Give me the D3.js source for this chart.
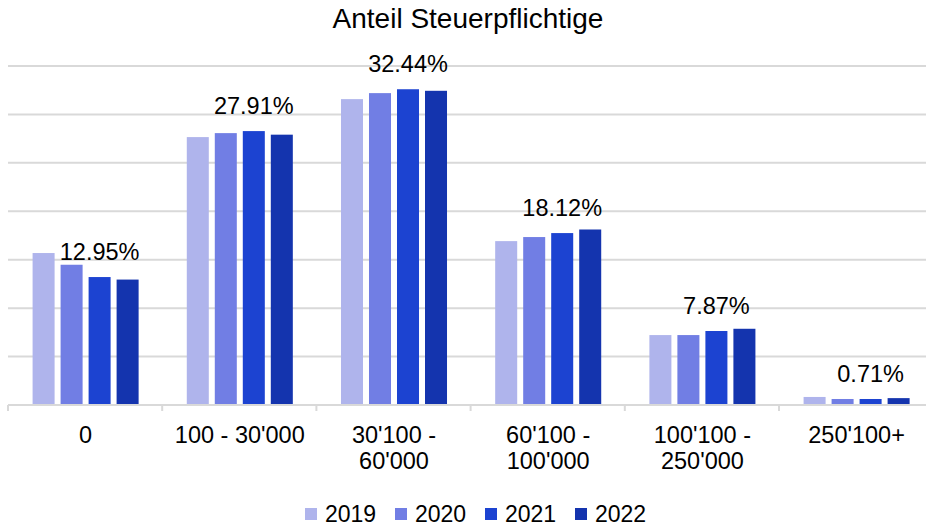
<!DOCTYPE html>
<html>
<head>
<meta charset="utf-8">
<title>Anteil Steuerpflichtige</title>
<script src="https://d3js.org/d3.v7.min.js"></script>
<style>
  body { margin: 0; background: #fff; }
  text { font-family: "Liberation Sans", Arial, sans-serif; fill: #000; }
</style>
</head>
<body>
<div id="chart"></div>
<script>

// data
var categories = ["0", "100 - 30'000", "30'100 - 60'000", "60'100 - 100'000", "100'100 - 250'000", "250'100+"]
var categoryLines = [["0"], ["100 - 30'000"], ["30'100 -", "60'000"], ["60'100 -", "100'000"], ["100'100 -", "250'000"], ["250'100+"]]
var years = ["2019", "2020", "2021", "2022"]
var values2019 = [15.69, 27.66, 31.58, 16.92, 7.22, 0.83]
var values2020 = [14.48, 28.07, 32.20, 17.34, 7.22, 0.62]
var values2021 = [13.21, 28.28, 32.60, 17.75, 7.64, 0.62]
var values2022 = [12.95, 27.91, 32.44, 18.12, 7.87, 0.71]
var yTicks = [5, 10, 15, 20, 25, 30, 35]

var series = [values2019, values2020, values2021, values2022]
var colors = ["#afb4ec", "#717ee4", "#1c43d1", "#1434ae"]

var width = 926
var height = 526

var svg = d3.select("#chart")
  .append("svg")
    .attr("width", width)
    .attr("height", height)

svg.append("rect")
  .attr("width", width)
  .attr("height", height)
  .attr("fill", "#fff")

// scales
var x0 = d3.scaleBand()
  .domain(categories)
  .range([8.5, 933.7])
  .padding(0)

var x1 = d3.scaleBand()
  .domain(years)
  .range([0, x0.bandwidth()])
  .paddingInner(0.214)
  .paddingOuter(0.86)

var y = d3.scaleLinear()
  .domain([0, 35])
  .range([405, 66])

var color = d3.scaleOrdinal()
  .domain(years)
  .range(colors)

// title
svg.append("text")
  .attr("x", 468)
  .attr("y", 28)
  .attr("text-anchor", "middle")
  .style("font-size", "28px")
  .text("Anteil Steuerpflichtige")

// gridlines
svg.append("g")
  .selectAll("line")
  .data(yTicks)
  .enter()
  .append("line")
    .attr("x1", 8)
    .attr("x2", width)
    .attr("y1", function(d){ return y(d) })
    .attr("y2", function(d){ return y(d) })
    .attr("stroke", "#d9d9d9")
    .attr("stroke-width", 2)

// bars
var rows = categories.map(function(c, i){
  return { cat: c, vals: years.map(function(yr, j){ return { year: yr, value: series[j][i] } }) }
})

var groups = svg.append("g")
  .selectAll("g")
  .data(rows)
  .enter()
  .append("g")
    .attr("transform", function(d){ return "translate(" + x0(d.cat) + ",0)" })

groups.selectAll("rect")
  .data(function(d){ return d.vals })
  .enter()
  .append("rect")
    .attr("x", function(d){ return x1(d.year) })
    .attr("width", x1.bandwidth())
    .attr("y", function(d){ return y(d.value) })
    .attr("height", function(d){ return y(0) - y(d.value) })
    .attr("fill", function(d){ return color(d.year) })

// data labels (2022 value, sitting above the 2021 bar)
groups.append("text")
  .attr("x", function(d){ return x1("2021") + x1.bandwidth() / 2 })
  .attr("y", function(d, i){ return y(values2021[i]) - 17 })
  .attr("text-anchor", "middle")
  .style("font-size", "23.5px")
  .text(function(d, i){ return values2022[i].toFixed(2) + "%" })

// x axis
var xAxis = svg.append("g")
  .attr("transform", "translate(0," + y(0) + ")")
  .call(d3.axisBottom(x0).tickSize(0).tickFormat(""))

xAxis.select(".domain").attr("stroke", "#d9d9d9").attr("stroke-width", 2)
  .attr("d", "M8," + 0 + "H" + width)

// tick marks at the band edges
xAxis.append("g")
  .selectAll("line")
  .data(categories)
  .enter()
  .append("line")
    .attr("x1", function(d){ return x0(d) - 0.5 })
    .attr("x2", function(d){ return x0(d) - 0.5 })
    .attr("y1", 0)
    .attr("y2", 6)
    .attr("stroke", "#d9d9d9")
    .attr("stroke-width", 2)

// category labels, wrapped as in the picture
var catLabels = svg.append("g")
  .selectAll("text")
  .data(categories)
  .enter()
  .append("text")
    .attr("text-anchor", "middle")
    .attr("x", function(d){ return x0(d) + x0.bandwidth() / 2 })
    .attr("y", 443)
    .style("font-size", "23.5px")

catLabels.selectAll("tspan")
  .data(function(d, i){ return categoryLines[i] })
  .enter()
  .append("tspan")
    .attr("x", function(){ return d3.select(this.parentNode).attr("x") })
    .attr("dy", function(d, i){ return i === 0 ? 0 : 26 })
    .text(function(d){ return d })

// legend
var legend = svg.append("g")
  .selectAll("g")
  .data(years)
  .enter()
  .append("g")
    .attr("transform", function(d, i){ return "translate(" + (305 + i * 90) + ",508)" })

legend.append("rect")
  .attr("width", 12)
  .attr("height", 12)
  .attr("fill", function(d){ return color(d) })

legend.append("text")
  .attr("x", 20)
  .attr("y", 14)
  .style("font-size", "23px")
  .text(function(d){ return d })

</script>
</body>
</html>
